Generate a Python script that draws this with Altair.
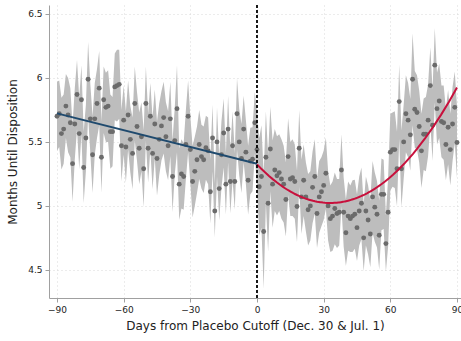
import altair as alt
import pandas as pd

# Day relative to the placebo cutoff
days = list(range(-90, 91))

# Mean months until disposition for each day
months_pre = [
    5.70, 5.72, 5.565, 5.60, 5.78, 5.71, 5.65, 5.33, 5.64, 5.87,
    5.565, 5.83, 5.30, 5.53, 5.99, 5.68, 5.40, 5.68, 5.80, 5.92,
    5.38, 5.83, 5.77, 5.78, 5.58, 5.58, 5.93, 5.94, 5.95, 5.47,
    5.67, 5.46, 5.71, 5.52, 5.41, 5.80, 5.62, 5.45, 5.54, 5.29,
    5.80, 5.45, 5.70, 5.41, 5.64, 5.37, 5.52, 5.625, 5.69, 5.54,
    5.47, 5.68, 5.23, 5.51, 5.76, 5.17, 5.25, 5.23, 5.48, 5.70,
    5.44, 5.19, 5.27, 5.36, 5.48, 5.385, 5.36, 5.455, 5.43, 5.11,
    5.53, 4.96, 5.50, 5.135, 5.40, 5.57, 5.17, 5.60, 5.19, 5.47,
    5.19, 5.72, 5.50, 5.37, 5.60, 5.42, 5.20, 5.35, 5.365, 5.65,
]
months_post = [
    5.44, 5.15, 5.23, 4.80, 5.38, 5.02, 5.445, 5.17, 5.28, 5.235,
    5.26, 5.21, 5.17, 5.05, 5.385, 5.21, 5.22, 5.19, 4.995, 5.45,
    5.07, 5.20, 5.07, 4.97, 5.00, 5.145, 5.23, 4.94, 5.07, 5.11,
    5.16, 5.255, 5.00, 4.90, 4.92, 4.98, 4.94, 4.95, 5.28, 4.95,
    4.79, 4.92, 4.90, 4.92, 4.935, 4.83, 4.96, 5.02, 4.75, 4.96,
    4.89, 4.78, 5.07, 4.99, 4.935, 4.77, 5.09, 5.09, 4.705, 4.95,
    5.42, 5.44, 5.44, 5.29, 5.815, 5.29, 5.50, 5.72, 5.67, 5.555,
    5.99, 5.755, 5.73, 5.62, 5.43, 5.56, 5.56, 5.67, 5.94, 5.63,
    6.10, 5.76, 5.82, 5.66, 5.65, 5.48, 5.615, 5.44, 5.64, 5.77, 5.495,
]

# Half-width of the 95% confidence interval for each day
ci_half = [
    0.27, 0.26, 0.28, 0.27, 0.25, 0.29, 0.27, 0.30, 0.28, 0.27,
    0.28, 0.27, 0.28, 0.26, 0.29, 0.27, 0.30, 0.28, 0.27, 0.29,
    0.28, 0.26, 0.27, 0.28, 0.29, 0.27, 0.26, 0.28, 0.27, 0.28,
    0.27, 0.28, 0.27, 0.26, 0.28, 0.29, 0.27, 0.28, 0.27, 0.30,
    0.29, 0.27, 0.26, 0.28, 0.27, 0.29, 0.28, 0.27, 0.28, 0.27,
    0.27, 0.29, 0.28, 0.26, 0.34, 0.28, 0.27, 0.26, 0.27, 0.28,
    0.26, 0.28, 0.27, 0.26, 0.27, 0.25, 0.26, 0.25, 0.26, 0.25,
    0.26, 0.21, 0.27, 0.25, 0.26, 0.27, 0.24, 0.26, 0.25, 0.27,
    0.22, 0.28, 0.26, 0.27, 0.26, 0.25, 0.27, 0.26, 0.25, 0.24,
    0.30, 0.38, 0.40, 0.45, 0.36, 0.38, 0.33, 0.34, 0.32, 0.31,
    0.30, 0.31, 0.30, 0.29, 0.30, 0.29, 0.30, 0.29, 0.28, 0.30,
    0.29, 0.28, 0.27, 0.28, 0.27, 0.28, 0.29, 0.27, 0.28, 0.27,
    0.27, 0.28, 0.27, 0.26, 0.27, 0.28, 0.27, 0.26, 0.28, 0.27,
    0.26, 0.27, 0.26, 0.28, 0.27, 0.26, 0.27, 0.28, 0.26, 0.27,
    0.27, 0.26, 0.28, 0.27, 0.26, 0.27, 0.28, 0.27, 0.22, 0.27,
    0.30, 0.29, 0.30, 0.29, 0.29, 0.30, 0.29, 0.30, 0.29, 0.28,
    0.36, 0.30, 0.29, 0.28, 0.29, 0.28, 0.29, 0.28, 0.30, 0.28,
    0.29, 0.28, 0.29, 0.28, 0.29, 0.28, 0.29, 0.28, 0.29, 0.28, 0.28,
]

x_ticks = [-90, -60, -30, 0, 30, 60, 90]
y_ticks = [4.5, 5.0, 5.5, 6.0, 6.5]

months = months_pre + months_post
df = pd.DataFrame({"day": days, "months": months, "half": ci_half})
df["lo"] = df["months"] - df["half"]
df["hi"] = df["months"] + df["half"]

FONT = "DejaVu Sans"

x_enc = alt.X(
    "day:Q",
    scale=alt.Scale(domain=[-93.6, 91.8], nice=False, zero=False),
    axis=alt.Axis(
        values=x_ticks,
        title="Days from Placebo Cutoff (Dec. 30 & Jul. 1)",
        format="d",
    ),
)
y_scale = alt.Scale(domain=[4.28, 6.57], nice=False, zero=False)
y_axis = alt.Axis(values=y_ticks, title="Months Until Disposition", format="~g")

base = alt.Chart(df)

band = base.mark_area(color="#bdbdbd", opacity=1).encode(
    x=x_enc,
    y=alt.Y("lo:Q", scale=y_scale, axis=y_axis),
    y2="hi:Q",
)

dots = base.mark_circle(size=24, color="#6b6b6b", opacity=1).encode(
    x="day:Q",
    y=alt.Y("months:Q", scale=y_scale),
)

fit_pre = (
    base.transform_filter("datum.day < 0")
    .transform_regression("day", "months", method="linear", extent=[-90, 0])
    .mark_line(color="#1f4a6e", strokeWidth=2)
    .encode(x="day:Q", y=alt.Y("months:Q", scale=y_scale))
)

fit_post = (
    base.transform_filter("datum.day >= 0")
    .transform_regression("day", "months", method="poly", order=2, extent=[0, 90])
    .mark_line(color="#c8103c", strokeWidth=2)
    .encode(x="day:Q", y=alt.Y("months:Q", scale=y_scale))
)

cutoff = (
    alt.Chart(pd.DataFrame({"day": [0]}))
    .mark_rule(color="black", strokeWidth=1.8, strokeDash=[3, 2])
    .encode(x="day:Q")
)

chart = (
    alt.layer(band, dots, fit_pre, fit_post, cutoff)
    .properties(
        width=412,
        height=293,
        autosize=alt.AutoSizeParams(type="none"),
        padding={"left": 49, "top": 5, "right": 0, "bottom": 43},
        background="white",
    )
    .configure_view(stroke=None)
    .configure_axis(
        labelFont=FONT,
        titleFont=FONT,
        labelFontSize=9,
        titleFontSize=12,
        titleFontWeight="normal",
        labelColor="#222222",
        titleColor="#222222",
        domainColor="#a0a0a0",
        tickColor="#a0a0a0",
        tickSize=4,
        gridColor="#d9d9d9",
        gridDash=[1, 3],
        gridWidth=1,
    )
    .configure_axisX(titlePadding=6, labelPadding=3)
    .configure_axisY(titlePadding=8, labelPadding=3)
)

chart.save("out.html", embed_options={"renderer": "svg", "actions": False})
